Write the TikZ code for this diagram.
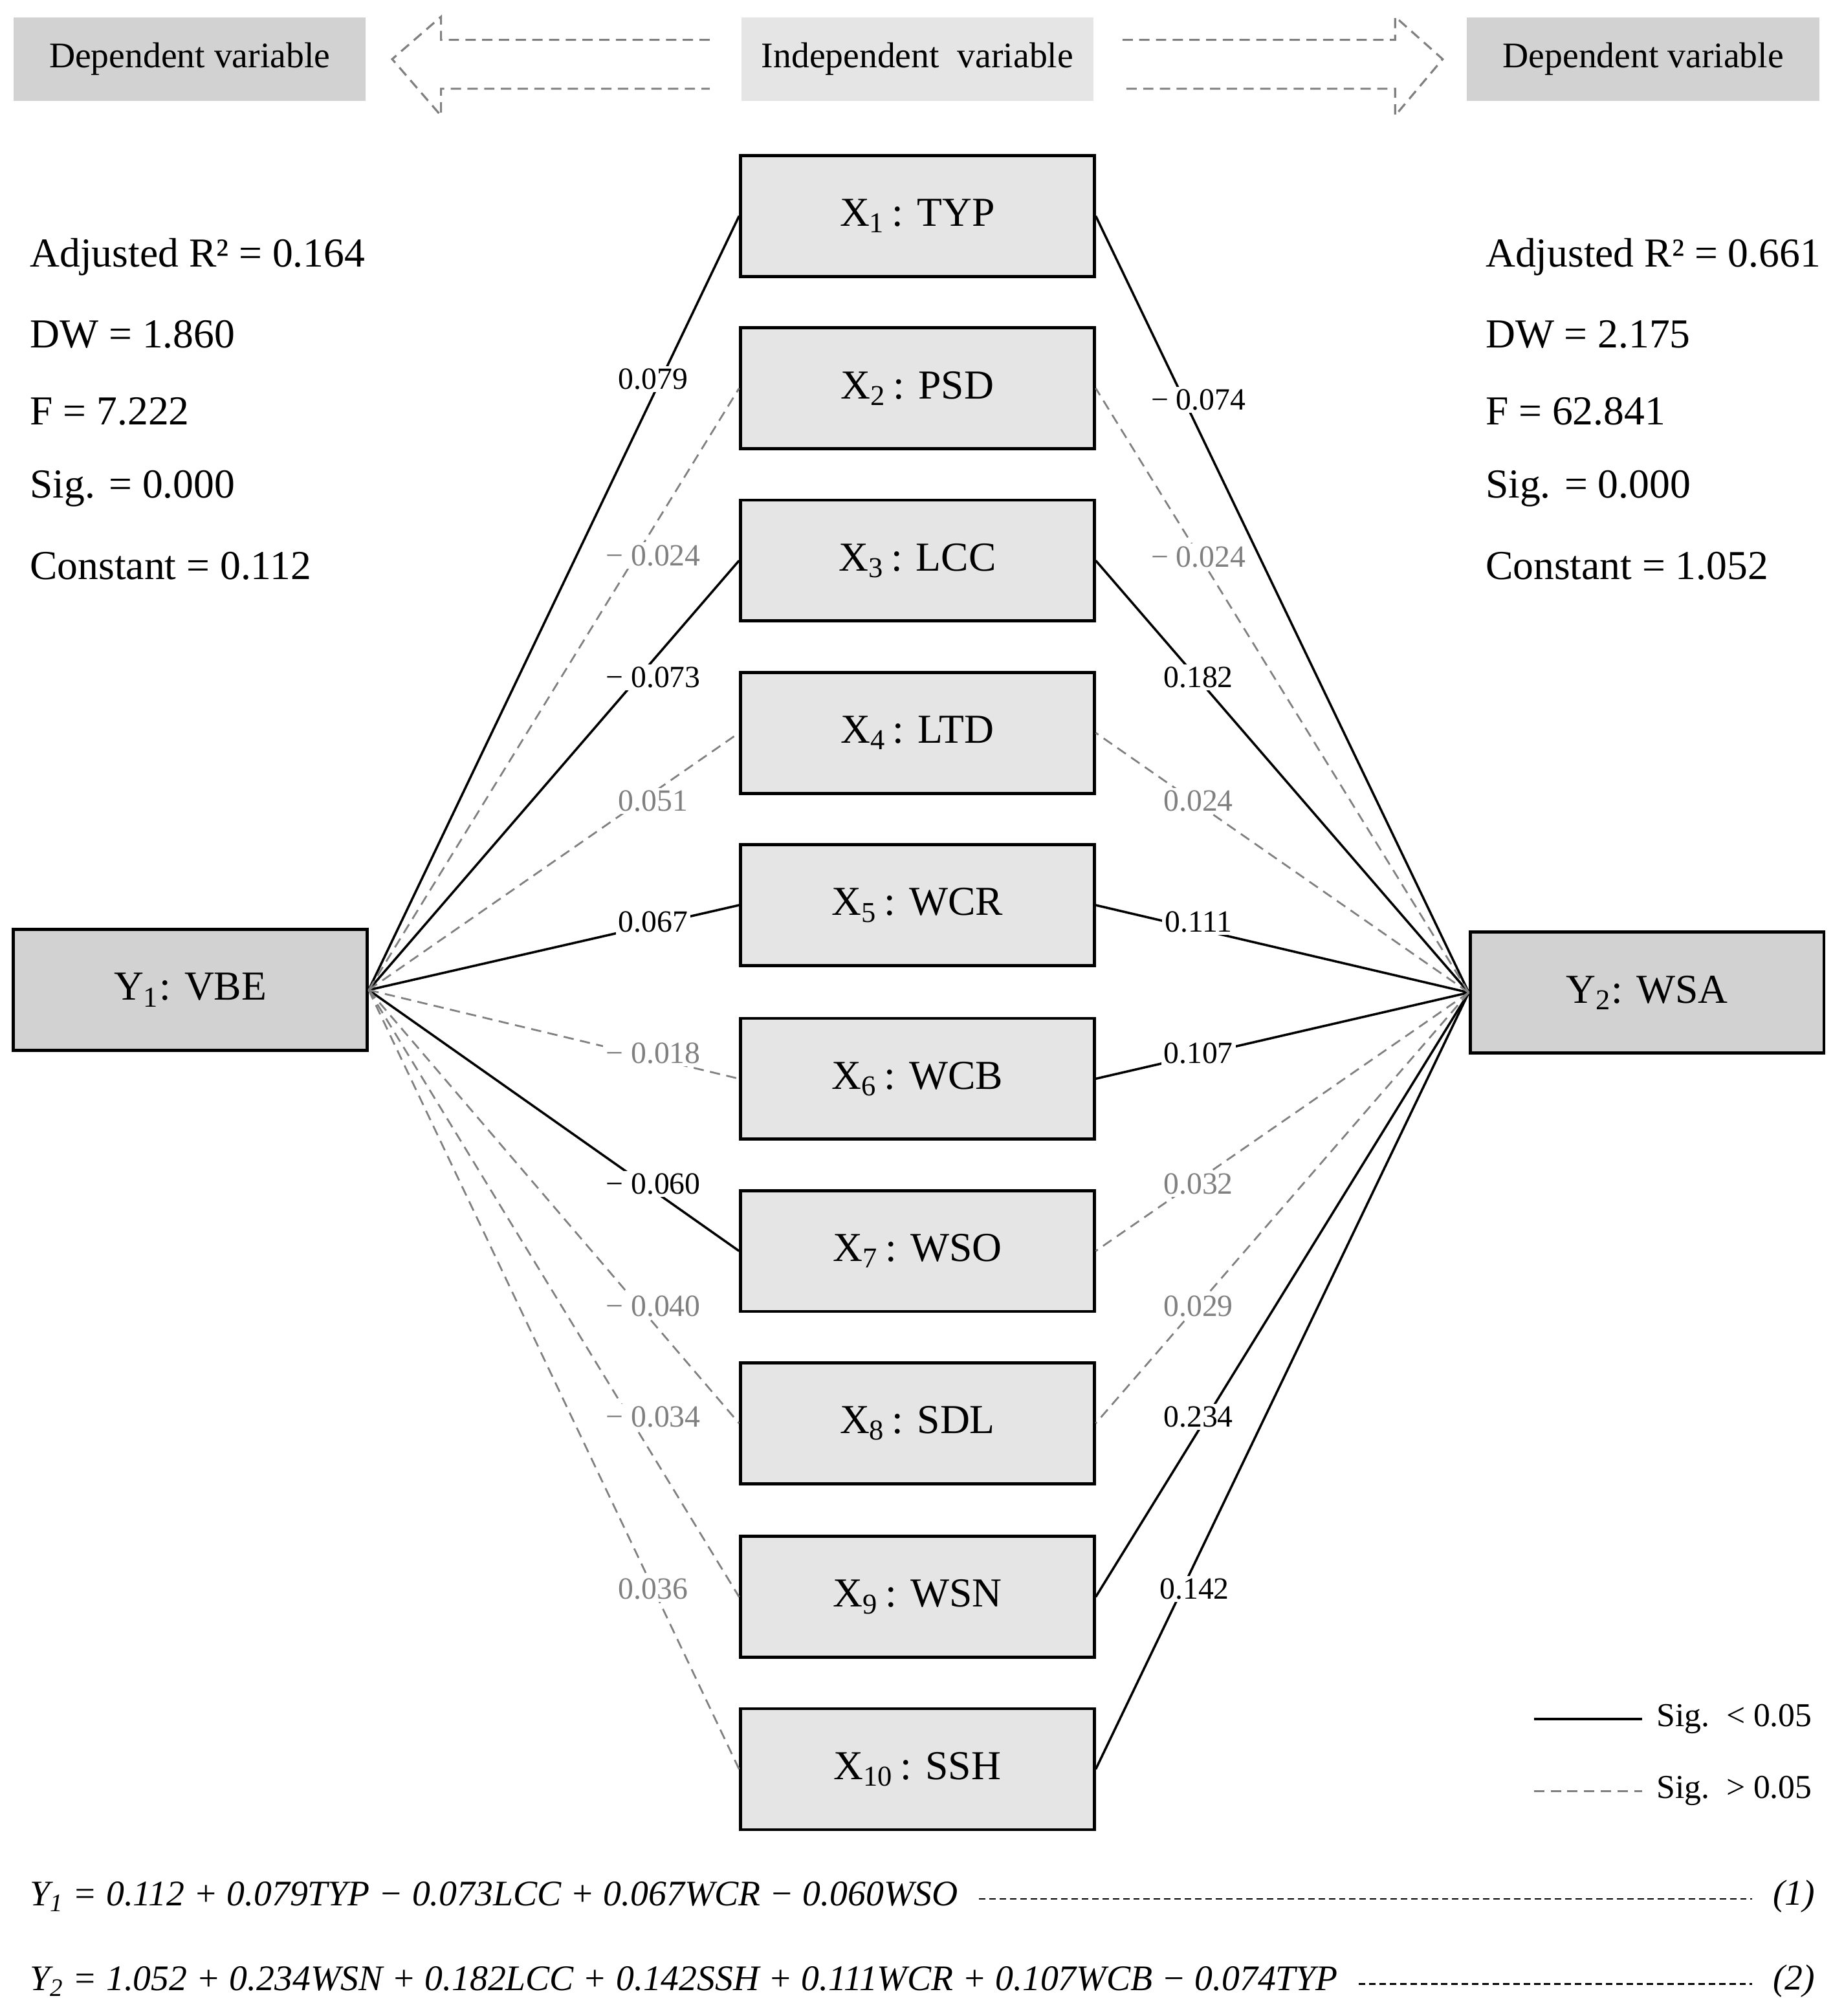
\documentclass[tikz,border=0pt]{standalone}
\usepackage{fontspec}
\setmainfont{Liberation Serif}
\begin{document}
\begin{tikzpicture}[x=0.5pt,y=-0.5pt,
  xbox/.style={draw,line width=1.2pt,fill=gray!20,minimum width=137.5pt,minimum height=47pt,font=\fontsize{16}{18}\selectfont,inner sep=0pt},
  ybox/.style={xbox,fill=gray!35},
  head/.style={minimum width=137pt,minimum height=32.5pt,font=\fontsize{14}{16}\selectfont,inner sep=0pt},
  sig/.style={line width=0.9pt,black},
  ns/.style={line width=0.7pt,gray,dash pattern=on 4pt off 2.5pt},
  lab/.style={fill=white,inner sep=1pt,font=\fontsize{12}{14}\selectfont},
  glab/.style={lab,text=gray},
  stat/.style={anchor=west,font=\fontsize{16}{18}\selectfont,inner sep=0pt},
  eq/.style={anchor=west,font=\fontsize{14}{16}\selectfont\itshape,inner sep=0pt}]
\useasboundingbox (0,0) rectangle (1434,1568);
% header
\node[head,fill=gray!35] (hl) at (147.5,46) {Dependent variable};
\node[head,fill=gray!20] (hc) at (713.5,46) {Independent\ \ variable};
\node[head,fill=gray!35] (hr) at (1278,46) {Dependent variable};
\draw[ns,line width=0.8pt] (552,31) -- (343,31) -- (343,13) -- (305,46) -- (343,90) -- (343,69) -- (552,69);
\draw[ns,line width=0.8pt] (873,31) -- (1085,31) -- (1085,13) -- (1122,46) -- (1085,90) -- (1085,69) -- (873,69);
% boxes
\foreach \i/\t/\y in {1/TYP/168,2/PSD/302,3/LCC/436,4/LTD/570,5/WCR/704,6/WCB/839,7/WSO/973,8/SDL/1107,9/WSN/1242,10/SSH/1376}
  \node[xbox] (x\i) at (713.5,\y) {X\textsubscript{\i}\,: \t};
\node[ybox] (y1) at (148,770) {Y\textsubscript{1}: VBE};
\node[ybox] (y2) at (1281,772) {Y\textsubscript{2}: WSA};
% connectors
\foreach \i in {1,3,5,7} \draw[sig] (y1.east) -- (x\i.west);
\foreach \i in {2,4,6,8,9,10} \draw[ns] (y1.east) -- (x\i.west);
\foreach \i in {1,3,5,6,9,10} \draw[sig] (y2.west) -- (x\i.east);
\foreach \i in {2,4,7,8} \draw[ns] (y2.west) -- (x\i.east);
% labels left
\node[lab] (l1) at (508,295) {0.079};
\node[glab] (l2) at (508,432) {− 0.024};
\node[lab] (l3) at (508,527) {− 0.073};
\node[glab] (l4) at (508,623) {0.051};
\node[lab] (l5) at (508,717) {0.067};
\node[glab] (l6) at (508,819) {− 0.018};
\node[lab] (l7) at (508,921) {− 0.060};
\node[glab] (l8) at (508,1016) {− 0.040};
\node[glab] (l9) at (508,1102) {− 0.034};
\node[glab] (l10) at (508,1236) {0.036};
% labels right
\node[lab] (r1) at (932,311) {− 0.074};
\node[glab] (r2) at (932,433) {− 0.024};
\node[lab] (r3) at (932,527) {0.182};
\node[glab] (r4) at (932,623) {0.024};
\node[lab] (r5) at (932,717) {0.111};
\node[lab] (r6) at (932,819) {0.107};
\node[glab] (r7) at (932,921) {0.032};
\node[glab] (r8) at (932,1016) {0.029};
\node[lab] (r9) at (932,1102) {0.234};
\node[lab] (r10) at (929,1236) {0.142};
% stats
\node[stat] (s1) at (23,200) {Adjusted R² = 0.164};
\node[stat] (s2) at (23,260) {DW = 1.860};
\node[stat] (s3) at (23,320) {F = 7.222};
\node[stat] (s4) at (23,380) {Sig. = 0.000};
\node[stat] (s5) at (23,440) {Constant = 0.112};
\node[stat] (t1) at (1155,200) {Adjusted R² = 0.661};
\node[stat] (t2) at (1155,260) {DW = 2.175};
\node[stat] (t3) at (1155,320) {F = 62.841};
\node[stat] (t4) at (1155,380) {Sig. = 0.000};
\node[stat] (t5) at (1155,440) {Constant = 1.052};
% legend
\coordinate (ga) at (1193,1337); \coordinate (gb) at (1277,1337);
\coordinate (gc) at (1193,1393); \coordinate (gd) at (1277,1393);
\draw[sig] (ga) -- (gb);
\draw[ns] (gc) -- (gd);
\node[stat,font=\fontsize{13}{15}\selectfont] (lg1) at (1288,1337) {Sig.\ \ <\ 0.05};
\node[stat,font=\fontsize{13}{15}\selectfont] (lg2) at (1288,1393) {Sig.\ \ >\ 0.05};
% equations
\node[eq] (e1) at (23,1475) {Y\textsubscript{1} = 0.112 + 0.079TYP − 0.073LCC + 0.067WCR − 0.060WSO};
\node[eq,anchor=east] (n1) at (1412,1475) {(1)};
\node[eq] (e2) at (23,1541) {Y\textsubscript{2} = 1.052 + 0.234WSN + 0.182LCC + 0.142SSH + 0.111WCR + 0.107WCB − 0.074TYP};
\node[eq,anchor=east] (n2) at (1412,1541) {(2)};
\draw[line width=0.6pt,dash pattern=on 2.5pt off 1.5pt] ([xshift=8pt,yshift=-1pt]e1.east) -- ([xshift=-8pt,yshift=-1pt]n1.west);
\draw[line width=0.6pt,dash pattern=on 2.5pt off 1.5pt] ([xshift=8pt,yshift=-1pt]e2.east) -- ([xshift=-8pt,yshift=-1pt]n2.west);
\end{tikzpicture}
\end{document}
